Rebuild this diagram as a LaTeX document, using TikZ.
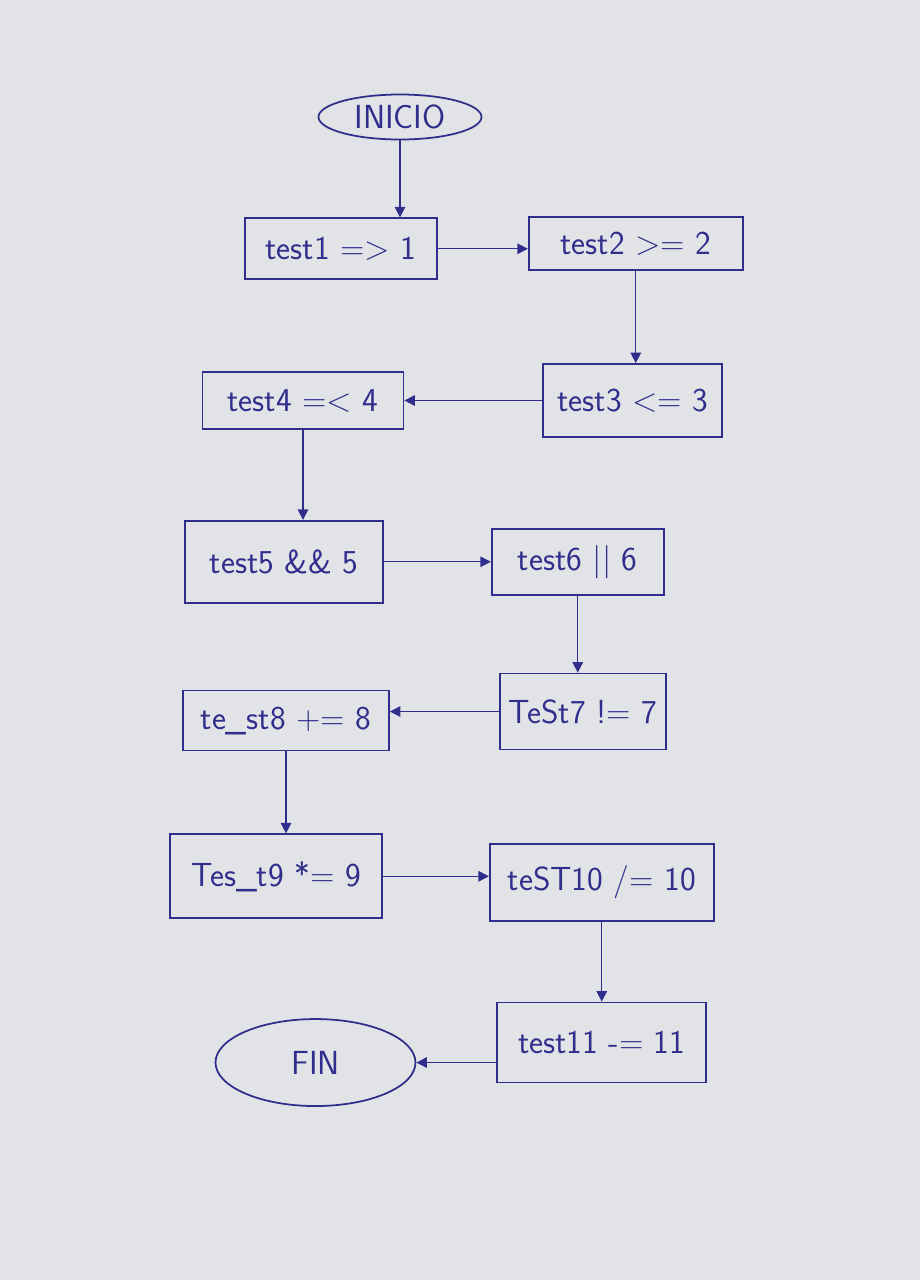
\documentclass[tikz,border=0pt]{standalone}
\usepackage{tikz}
\usetikzlibrary{positioning,arrows.meta,shapes.geometric}
\definecolor{ink}{RGB}{48,46,140}
\definecolor{paper}{RGB}{226,227,230}

\begin{document}
\begin{tikzpicture}[
box/.style={draw=ink,line width=1pt,text=ink,minimum width=4cm,minimum height=1.3cm,font=\sffamily\fontsize{19}{23}\selectfont},
terminal/.style={box,ellipse},
>={Triangle[length=6pt,width=6pt]}]
\fill[paper] (0,0) rectangle (18.4,-25.6);
\node (inicio) [terminal,minimum width=3.26cm,minimum height=0.9cm,inner sep=1pt] at (8.0,-2.34) {INICIO};
\node (test1) [box,minimum width=3.84cm,minimum height=1.22cm,below=1.54cm of inicio,xshift=-1.18cm] {test1 => 1};
\node (test2) [box,minimum width=4.28cm,minimum height=1.06cm,right=1.8cm of test1,yshift=0.1cm] {test2 >= 2};
\node (test3) [box,minimum width=3.58cm,minimum height=1.46cm,below=1.84cm of test2,xshift=-0.06cm] {test3 <= 3};
\node (test4) [box,minimum width=4.02cm,minimum height=1.14cm,left=2.76cm of test3] {test4 =< 4};
\node (test5) [box,minimum width=3.96cm,minimum height=1.64cm,below=1.8cm of test4,xshift=-0.38cm] {test5 \&\& 5};
\node (test6) [box,minimum width=3.44cm,minimum height=1.32cm,right=2.14cm of test5] {test6 || 6};
\node (test7) [box,minimum width=3.32cm,minimum height=1.52cm,below=1.54cm of test6,xshift=0.1cm] {TeSt7 != 7};
\node (test8) [box,minimum width=4.12cm,minimum height=1.2cm,left=2.18cm of test7,yshift=-0.18cm] {te\_st8 += 8};
\node (test9) [box,minimum width=4.24cm,minimum height=1.68cm,below=1.64cm of test8,xshift=-0.2cm] {Tes\_t9 *= 9};
\node (test10) [box,minimum width=4.48cm,minimum height=1.54cm,right=2.12cm of test9,yshift=-0.12cm] {teST10 /= 10};
\node (test11) [box,minimum width=4.18cm,minimum height=1.6cm,below=1.6cm of test10] {test11 -= 11};
\node (fin) [terminal,minimum width=4cm,minimum height=1.74cm,left=1.6cm of test11,yshift=-0.4cm] {FIN};
\draw[->,ink,thick] (inicio) -- (inicio |- test1.north);
\draw[->,ink,thick] (test1.east) -- (test1.east -| test2.west);
\draw[->,ink,thick] (test2.south) -- (test2.south |- test3.north);
\draw[->,ink,thick] (test3.west) -- (test3.west -| test4.east);
\draw[->,ink,thick] (test4.south) -- (test4.south |- test5.north);
\draw[->,ink,thick] (test5.east) -- (test5.east -| test6.west);
\draw[->,ink,thick] (test6.south) -- (test6.south |- test7.north);
\draw[->,ink,thick] (test7.west) -- (test7.west -| test8.east);
\draw[->,ink,thick] (test8.south) -- (test8.south |- test9.north);
\draw[->,ink,thick] (test9.east) -- (test9.east -| test10.west);
\draw[->,ink,thick] (test10.south) -- (test10.south |- test11.north);
\draw[->,ink,thick] (test11.west |- fin.east) -- (fin.east);
\end{tikzpicture}
\end{document}
